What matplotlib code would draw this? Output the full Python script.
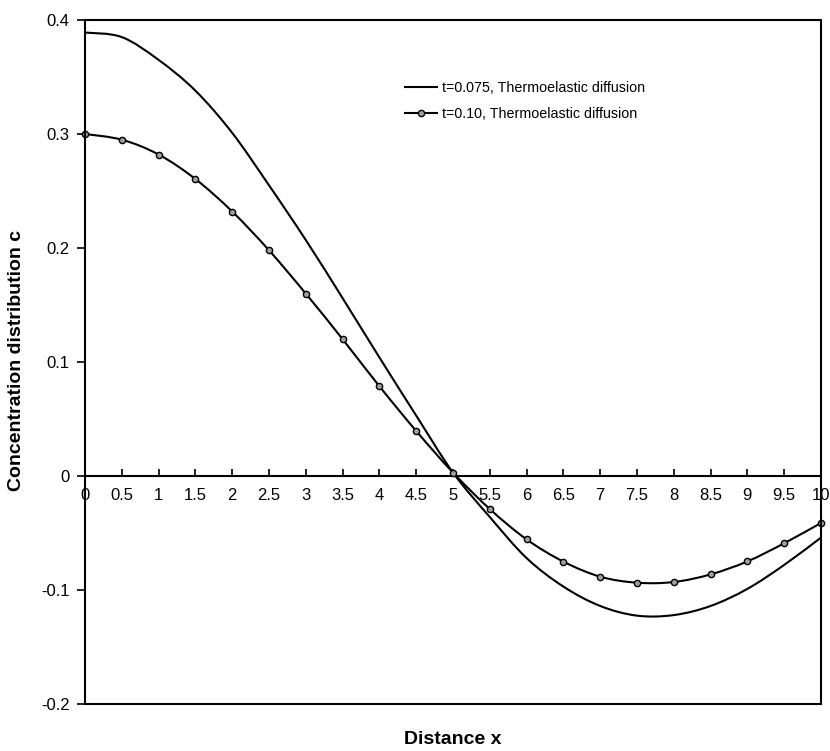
import numpy as np
import matplotlib
matplotlib.use("Agg")
import matplotlib.pyplot as plt
from matplotlib.path import Path
from matplotlib.patches import PathPatch, Rectangle
from matplotlib.lines import Line2D

plt.rcParams['font.family'] = ['Liberation Sans', 'DejaVu Sans']

# distance x
x = [0, 0.5, 1, 1.5, 2, 2.5, 3, 3.5, 4, 4.5, 5,
     5.5, 6, 6.5, 7, 7.5, 8, 8.5, 9, 9.5, 10]
# t=0.075, thermoelastic diffusion
c_t075 = [0.389, 0.385, 0.365, 0.338, 0.301, 0.255, 0.207, 0.156, 0.104, 0.053, 0.003,
          -0.036, -0.072, -0.097, -0.114, -0.1225, -0.122, -0.114, -0.099, -0.078, -0.054]
# t=0.10, thermoelastic diffusion
c_t10 = [0.300, 0.295, 0.282, 0.2605, 0.232, 0.198, 0.160, 0.120, 0.0787, 0.0395, 0.003,
         -0.029, -0.0556, -0.0751, -0.0883, -0.0936, -0.093, -0.0863, -0.0749, -0.059, -0.0412]

labels = ['t=0.075, Thermoelastic diffusion', 't=0.10, Thermoelastic diffusion']
xticks = [0, 0.5, 1, 1.5, 2, 2.5, 3, 3.5, 4, 4.5, 5, 5.5, 6, 6.5, 7, 7.5, 8, 8.5, 9, 9.5, 10]
yticks = [-0.2, -0.1, 0, 0.1, 0.2, 0.3, 0.4]


def smooth_path(xs, ys):
    # excel-style smoothed line: cubic bezier through every point
    p = np.column_stack([xs, ys]).astype(float)
    n = len(p)
    verts = [p[0]]
    codes = [Path.MOVETO]
    for i in range(n - 1):
        p0 = p[max(i - 1, 0)]
        p1 = p[i]
        p2 = p[i + 1]
        p3 = p[min(i + 2, n - 1)]
        verts += [p1 + (p2 - p0) / 6, p2 - (p3 - p1) / 6, p2]
        codes += [Path.CURVE4] * 3
    return Path(verts, codes)


fig = plt.figure(figsize=(8.3, 7.51), dpi=100)
ax = fig.add_axes([85 / 830, 47 / 751, 736 / 830, 684 / 751])

lw = 1.5
ax.add_patch(PathPatch(smooth_path(x, c_t075), fill=False, color='black', lw=lw))
ax.add_patch(PathPatch(smooth_path(x, c_t10), fill=False, color='black', lw=lw))
ax.plot(x, c_t10, linestyle='none', marker='o', ms=4.5, mfc='#a0a0a0', mec='black', mew=1.0,
        zorder=3, clip_on=False)

ax.set_xlim(0, 10)
ax.set_ylim(-0.2, 0.4)

# x axis drawn through zero, frame drawn round the whole plot
ax.spines['bottom'].set_position(('data', 0))
for s in ['top', 'right', 'left']:
    ax.spines[s].set_visible(False)
ax.spines['bottom'].set_linewidth(1.5)
ax.add_patch(Rectangle((0, 0), 1, 1, transform=ax.transAxes, fill=False,
                       edgecolor='black', lw=1.5, clip_on=False, zorder=4))

ax.set_xticks(xticks)
ax.set_xticklabels([f'{v:g}' for v in xticks])
ax.set_yticks(yticks)
ax.set_yticklabels([f'{v:g}' for v in yticks])
ax.tick_params(axis='x', direction='in', length=5, width=1.2, pad=9, labelsize=12)
ax.tick_params(axis='y', direction='out', length=6, width=1.2, pad=5, labelsize=12)

fig.text(453 / 830, 1 - 740 / 751, 'Distance x', ha='center', va='center',
         fontsize=14, fontweight='bold')
fig.text(17 / 830, 1 - 360 / 751, 'Concentration distribution c', ha='center', va='center',
         rotation=90, fontsize=14, fontweight='bold')

handles = [Line2D([], [], color='black', lw=lw),
           Line2D([], [], color='black', lw=lw, marker='o', ms=4.5, mfc='#a0a0a0', mec='black')]
ax.legend(handles, labels, loc='upper left', bbox_to_anchor=(398 / 830, 1 - 74 / 751),
          bbox_transform=fig.transFigure, frameon=False, fontsize=10.3,
          handlelength=2.2, handletextpad=0.4, labelspacing=0.85, borderpad=0)

fig.savefig('out.png', dpi=100)
